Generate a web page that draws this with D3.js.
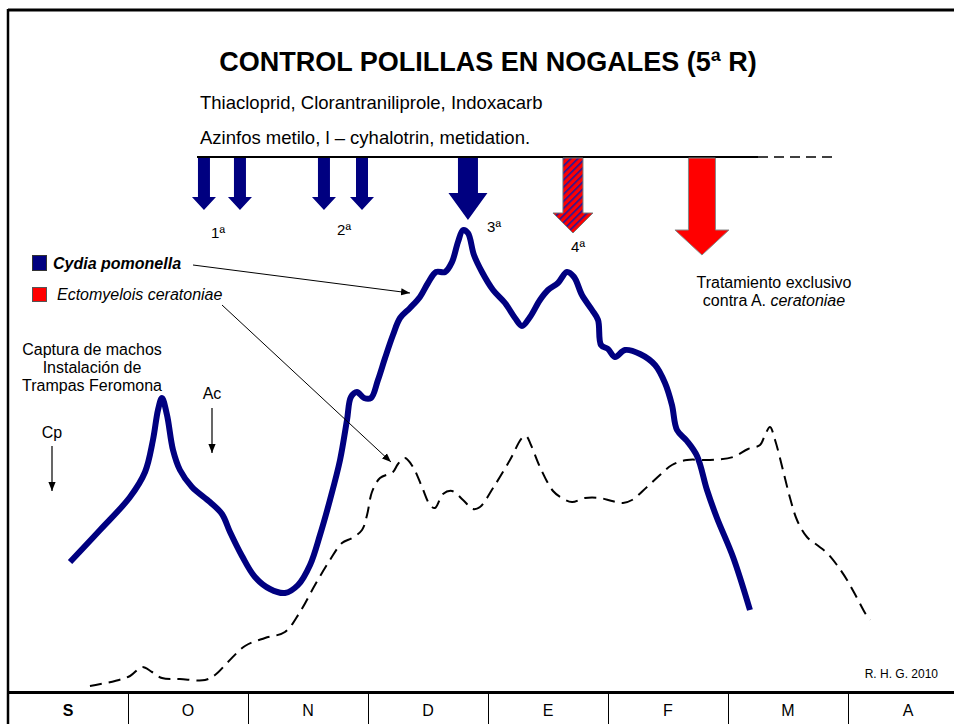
<!DOCTYPE html>
<html><head><meta charset="utf-8">
<script src="https://cdn.jsdelivr.net/npm/d3@7"></script>
<style>html,body{margin:0;padding:0;background:#fff}svg{display:block}text{font-family:"Liberation Sans",Arial,sans-serif}</style>
</head><body>
<script>
const months = ["S","O","N","D","E","F","M","A"];
// Cydia pomonella: [month position, relative capture level]
const cydiaMonth = [0.517,0.767,1.017,1.142,1.208,1.25,1.283,1.325,1.375,1.433,1.533,1.683,1.783,1.85,1.95,2.058,2.183,2.308,2.417,2.517,2.6,2.683,2.767,2.825,2.858,2.908,2.967,3.025,3.083,3.142,3.208,3.267,3.35,3.433,3.5,3.567,3.642,3.7,3.75,3.792,3.833,3.883,3.95,4.042,4.142,4.225,4.283,4.35,4.433,4.5,4.583,4.658,4.717,4.783,4.867,4.917,4.942,5.0,5.058,5.142,5.267,5.392,5.475,5.533,5.575,5.658,5.742,5.825,5.908,6.042,6.183];
const cydiaValue = [25.8,32.2,38.8,43.8,50.2,56.2,58.6,55.2,48.2,44.2,40.8,37.8,35.4,31.8,27,22.8,20.4,19.6,21.2,25.2,31.2,38.2,46.2,54.2,58.8,59.8,58.6,58.6,62.2,66.6,71.2,74.6,76.6,78.8,81.6,83.8,83.8,85.8,89.8,92.2,91.6,87.2,83.8,80.2,77.6,74.6,73,74.8,78.2,80.2,81.6,83.8,82.8,79.2,76.2,74.2,69.2,68.4,66.8,68.2,67.4,65.2,61.6,57.2,52.2,50,47,40.2,34.6,26.8,16.2];
// Ectomyelois ceratoniae
const ectoMonth = [0.683,0.892,1.017,1.117,1.2,1.283,1.433,1.642,1.725,1.833,1.975,2.142,2.308,2.433,2.558,2.683,2.783,2.867,2.95,2.992,3.033,3.1,3.208,3.25,3.308,3.375,3.45,3.517,3.558,3.625,3.7,3.792,3.875,3.933,4.042,4.183,4.283,4.317,4.358,4.433,4.542,4.617,4.7,4.808,4.933,5.033,5.125,5.2,5.325,5.433,5.533,5.658,5.85,6.042,6.167,6.267,6.308,6.35,6.392,6.458,6.517,6.575,6.658,6.742,6.825,6.908,6.992,7.075,7.142,7.183];
const ectoValue = [1,2,3,4.8,3.8,2.6,2.4,2.2,3.2,5.8,9,10.6,11.8,15.8,21.2,26.2,29.6,30.6,32.2,35.2,39.8,42.6,43.8,45.4,46.6,44.8,40.8,37.2,36.6,39.4,40,38.2,36.4,36.8,40.6,46.2,50.6,51,49.2,44.8,40,38.6,37.8,38.6,38.6,38,37.6,38.2,40.8,43.2,45.2,46.2,46.2,46.8,48.4,49.2,51.2,52.8,50.2,44.2,38.6,34.2,30.8,29.2,27.6,25.2,22.2,18.6,15.6,14.2];
// Treatments: month position, kind, label
const treatMonth = [1.633,1.933,2.633,2.95,3.833,4.708,5.783];
const treatKind  = ["small","small","small","small","big","hatch","red"];
const treatLabels = ["1ª","2ª","3ª","4ª"];
const treatLabelMonth = [1.75,2.8,4.05,4.75];

const W=954,H=724;
const svg=d3.select("body").append("svg").attr("width",W).attr("height",H);
const x=d3.scaleLinear().domain([0,8]).range([8,968]);
const y=d3.scaleLinear().domain([0,100]).range([691,191]);
const navy="#000080";

const defs=svg.append("defs");
const pat=defs.append("pattern").attr("id","hatch").attr("patternUnits","userSpaceOnUse")
  .attr("width",5).attr("height",5).attr("patternTransform","rotate(-45)");
pat.append("rect").attr("width",5).attr("height",5).attr("fill","#ff0000");
pat.append("rect").attr("width",5).attr("height",1.6).attr("fill","#1a1aa0");
defs.append("marker").attr("id","ah").attr("viewBox","0 0 10 10").attr("refX",10).attr("refY",5)
  .attr("markerWidth",9).attr("markerHeight",9).attr("markerUnits","userSpaceOnUse").attr("orient","auto")
  .append("path").attr("d","M0,1 L10,5 L0,9 Z").attr("fill","#000");

// frame
svg.append("line").attr("x1",8).attr("x2",W).attr("y1",10).attr("y2",10).attr("stroke","#000").attr("stroke-width",3);
svg.append("line").attr("x1",8).attr("x2",8).attr("y1",9).attr("y2",H).attr("stroke","#000").attr("stroke-width",2.5);
svg.append("line").attr("x1",7).attr("x2",W).attr("y1",692.5).attr("y2",692.5).attr("stroke","#000").attr("stroke-width",3);

// month axis cells
const xa=d3.axisBottom(x).tickValues(d3.range(1,8)).tickSize(0).tickFormat("");
const ag=svg.append("g").attr("transform","translate(0,694)").call(xa);
ag.select(".domain").remove();
ag.selectAll(".tick line").attr("y1",0).attr("y2",30).attr("stroke","#000").attr("stroke-width",1);
svg.selectAll(".mlab").data(months).join("text").attr("class","mlab")
  .attr("x",(d,i)=>x(i+0.5)).attr("y",716).attr("text-anchor","middle")
  .attr("font-size",16).attr("font-weight",(d,i)=>i===0?"bold":"normal").text(d=>d);

// title
svg.append("text").attr("x",488).attr("y",71).attr("text-anchor","middle").attr("font-size",27)
  .attr("font-weight","bold").text("CONTROL POLILLAS EN NOGALES (5ª R)");
svg.append("text").attr("x",200).attr("y",109).attr("font-size",18.5).text("Thiacloprid, Clorantraniliprole, Indoxacarb");
svg.append("text").attr("x",200).attr("y",144).attr("font-size",18.5).text("Azinfos metilo, l – cyhalotrin, metidation.");

// treatment line
svg.append("line").attr("x1",197).attr("x2",758).attr("y1",157).attr("y2",157).attr("stroke","#000").attr("stroke-width",2);
svg.append("line").attr("x1",758).attr("x2",838).attr("y1",157).attr("y2",157).attr("stroke","#000").attr("stroke-width",1.5).attr("stroke-dasharray","10,6");

const spec={small:{s:12,h:24,hs:197,t:210,fill:navy,stroke:"none"},
  big:{s:20,h:39,hs:193,t:220,fill:navy,stroke:"none"},
  hatch:{s:20,h:40,hs:213,t:233,fill:"url(#hatch)",stroke:"#777"},
  red:{s:27,h:54,hs:230,t:255,fill:"#ff0000",stroke:"#888"}};
treatMonth.forEach((m,i)=>{
  const p=spec[treatKind[i]],cx=x(m),top=158;
  const d=`M${cx-p.s/2},${top} L${cx+p.s/2},${top} L${cx+p.s/2},${p.hs} L${cx+p.h/2},${p.hs} L${cx},${p.t} L${cx-p.h/2},${p.hs} L${cx-p.s/2},${p.hs} Z`;
  svg.append("path").attr("d",d).attr("fill",p.fill).attr("stroke",p.stroke).attr("stroke-width",1);
});
const tly=[238,235,232,252];
treatLabels.forEach((t,i)=>{
  svg.append("text").attr("x",x(treatLabelMonth[i])).attr("y",tly[i]).attr("text-anchor","middle").attr("font-size",15).text(t);
});

// curves
const line=d3.line().x(d=>x(d[0])).y(d=>y(d[1])).curve(d3.curveCatmullRom.alpha(0.5));
svg.append("path").datum(ectoMonth.map((m,i)=>[m,ectoValue[i]])).attr("d",line)
  .attr("fill","none").attr("stroke","#000").attr("stroke-width",2).attr("stroke-dasharray","12,7");
svg.append("path").datum(cydiaMonth.map((m,i)=>[m,cydiaValue[i]])).attr("d",line)
  .attr("fill","none").attr("stroke",navy).attr("stroke-width",6).attr("stroke-linejoin","round");

// legend
svg.append("rect").attr("x",32.5).attr("y",255.5).attr("width",14).attr("height",15).attr("fill",navy).attr("stroke","#333");
svg.append("text").attr("x",53).attr("y",269).attr("font-size",16).attr("font-weight","bold").attr("font-style","italic").text("Cydia pomonella");
svg.append("rect").attr("x",32.5).attr("y",287.5).attr("width",14).attr("height",14).attr("fill","#ff0000").attr("stroke","#555");
svg.append("text").attr("x",57).attr("y",300).attr("font-size",16).attr("font-style","italic").text("Ectomyelois ceratoniae");
svg.append("line").attr("x1",193).attr("y1",265).attr("x2",410).attr("y2",293).attr("stroke","#000").attr("stroke-width",1).attr("marker-end","url(#ah)");
svg.append("line").attr("x1",222).attr("y1",305).attr("x2",391).attr("y2",462).attr("stroke","#000").attr("stroke-width",1).attr("marker-end","url(#ah)");

// left annotations
[["Captura de machos",355],["Instalación de",373],["Trampas Feromona",391]].forEach(([t,yy])=>{
  svg.append("text").attr("x",92).attr("y",yy).attr("text-anchor","middle").attr("font-size",16).text(t);
});
svg.append("text").attr("x",212).attr("y",399).attr("text-anchor","middle").attr("font-size",16).text("Ac");
svg.append("line").attr("x1",212).attr("y1",408).attr("x2",212).attr("y2",453).attr("stroke","#000").attr("stroke-width",1.2).attr("marker-end","url(#ah)");
svg.append("text").attr("x",52).attr("y",438).attr("text-anchor","middle").attr("font-size",16).text("Cp");
svg.append("line").attr("x1",52).attr("y1",446).attr("x2",52).attr("y2",491).attr("stroke","#000").attr("stroke-width",1.2).attr("marker-end","url(#ah)");

// right annotation
svg.append("text").attr("x",774).attr("y",288).attr("text-anchor","middle").attr("font-size",16).text("Tratamiento exclusivo");
const t2=svg.append("text").attr("x",774).attr("y",306).attr("text-anchor","middle").attr("font-size",16);
t2.append("tspan").text("contra A. ");
t2.append("tspan").attr("font-style","italic").text("ceratoniae");

svg.append("text").attr("x",938).attr("y",678).attr("text-anchor","end").attr("font-size",12).text("R. H. G.  2010");
</script>
</body></html>
